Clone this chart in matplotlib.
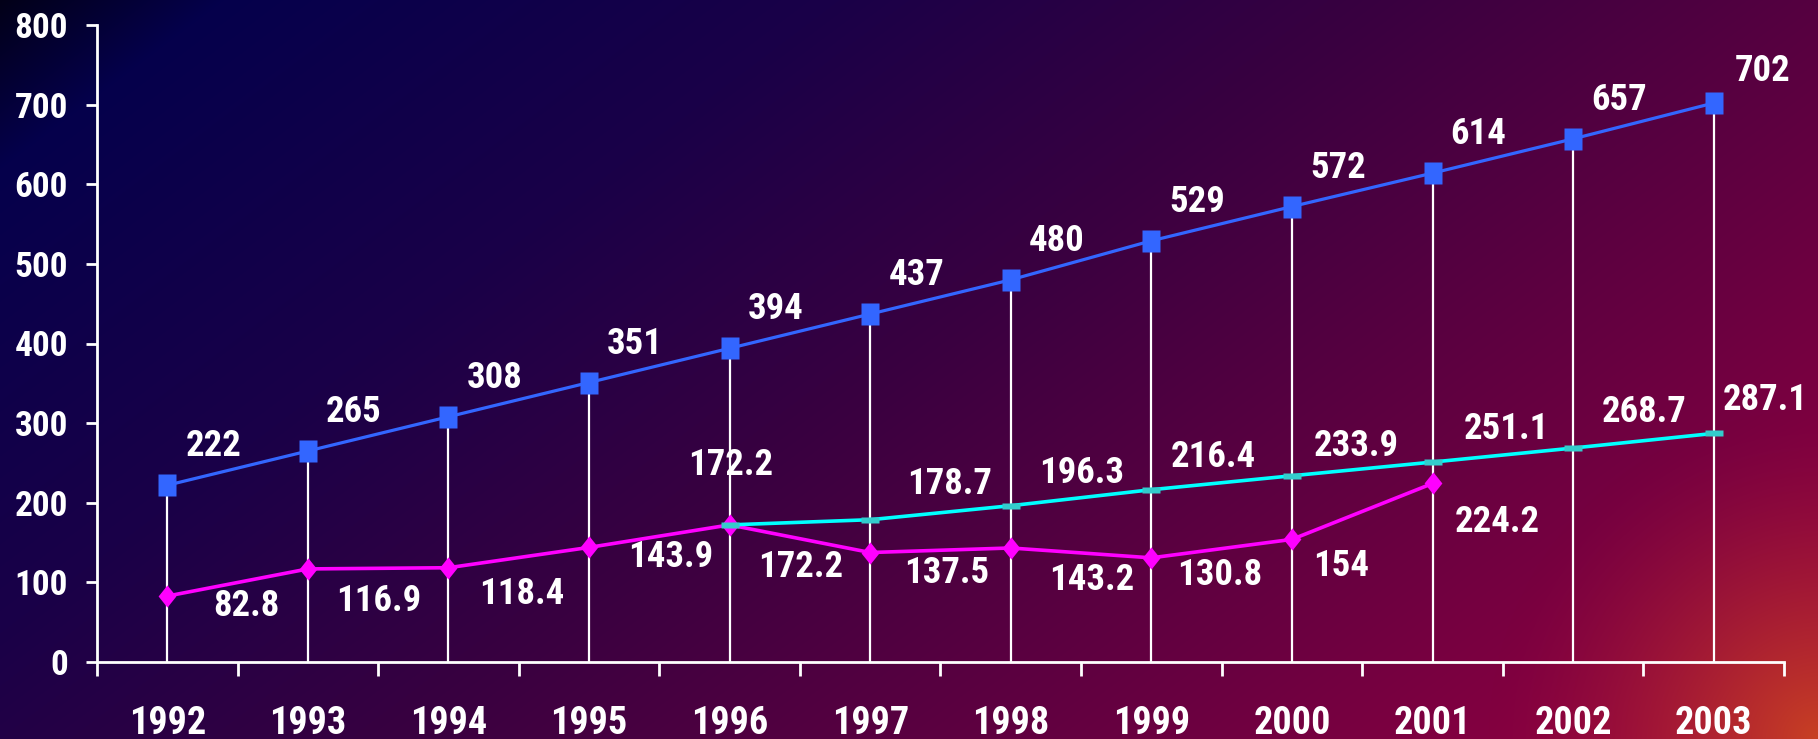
import numpy as np
import matplotlib
matplotlib.use("Agg")
import matplotlib.pyplot as plt
from matplotlib.path import Path

# ---------------- data ----------------
years = ["1992", "1993", "1994", "1995", "1996", "1997", "1998", "1999", "2000", "2001", "2002", "2003"]
blue_values = [222, 265, 308, 351, 394, 437, 480, 529, 572, 614, 657, 702]
magenta_years = ["1992", "1993", "1994", "1995", "1996", "1997", "1998", "1999", "2000", "2001"]
magenta_values = [82.8, 116.9, 118.4, 143.9, 172.2, 137.5, 143.2, 130.8, 154, 224.2]
magenta_labels = ["82.8", "116.9", "118.4", "143.9", "172.2", "137.5", "143.2", "130.8", "154", "224.2"]
cyan_years = ["1996", "1997", "1998", "1999", "2000", "2001", "2002", "2003"]
cyan_values = [172.2, 178.7, 196.3, 216.4, 233.9, 251.1, 268.7, 287.1]
cyan_labels = ["172.2", "178.7", "196.3", "216.4", "233.9", "251.1", "268.7", "287.1"]
y_ticks = [0, 100, 200, 300, 400, 500, 600, 700, 800]

# label offsets in pixels (dx right, dy down)
blue_offsets = [(46, -39)] * 11 + [(49, -32)]
magenta_offsets = [(79, 10), (71, 32), (73, 26), (82, 10), (71, 42), (76, 20), (81, 32), (68, 17), (49, 27), (65, 39)]
cyan_offsets = [(1, -60), (79, -36), (71, -33), (62, -33), (64, -30), (74, -33), (71, -36), (52, -33)]

plt.rcParams['font.family'] = ['Roboto Condensed', 'Liberation Sans', 'DejaVu Sans']
plt.rcParams['font.weight'] = 'bold'

W, H = 1818, 739
fig = plt.figure(figsize=(W / 100, H / 100), dpi=100)

# ---------------- background gradient ----------------
bg = fig.add_axes([0, 0, 1, 1], zorder=-10)
xn = np.linspace(0, 1, W)[None, :]
yn = np.linspace(0, 1, H)[:, None]
d = 0.65 * xn + 0.35 * yn
stops = [0.0, 0.08, 0.3, 0.5, 0.75, 1.0]
cols = np.array([[0x02, 0x00, 0x18], [0x05, 0x00, 0x4c], [0x1a, 0x00, 0x48],
                 [0x3a, 0x00, 0x40], [0x68, 0x00, 0x40], [0x9c, 0x00, 0x40]]) / 255.0
img = np.zeros((H, W, 3))
for c in range(3):
    img[:, :, c] = np.interp(d, stops, cols[:, c])
px = np.arange(W)[None, :]
py = np.arange(H)[:, None]
dist = np.sqrt((px - W) ** 2 + (py - H) ** 2)
w = np.clip(1 - dist / 330, 0, 1) ** 1.6 * 0.85
orange = np.array([0xd0, 0x4c, 0x1e]) / 255.0
img = img * (1 - w[:, :, None]) + orange[None, None, :] * w[:, :, None]
bg.imshow(img, aspect='auto', extent=[0, 1, 0, 1], origin='upper')
bg.set_axis_off()

# ---------------- main axes ----------------
ax = fig.add_axes([97 / W, 1 - 662 / H, (1784 - 97) / W, (662 - 25) / H])
ax.patch.set_alpha(0)

x = np.arange(len(years))
xm = [years.index(y) for y in magenta_years]
xc = [years.index(y) for y in cyan_years]

ax.vlines(x, 0, blue_values, color='white', lw=1.6, zorder=2)

tall_square = Path([(-0.82, -1), (0.82, -1), (0.82, 1), (-0.82, 1), (-0.82, -1)],
                   [Path.MOVETO, Path.LINETO, Path.LINETO, Path.LINETO, Path.CLOSEPOLY])
ax.plot(x, blue_values, color='#3366ff', lw=2.3, marker=tall_square, ms=16.5,
        mfc='#3366ff', mec='none', zorder=4)

diamond = Path([(0, 1), (0.8, 0), (0, -1), (-0.8, 0), (0, 1)],
               [Path.MOVETO, Path.LINETO, Path.LINETO, Path.LINETO, Path.CLOSEPOLY])
ax.plot(xm, magenta_values, color='#ff00ff', lw=2.6, marker=diamond, ms=16,
        mfc='#ff00ff', mec='none', zorder=5)

rect = Path([(-1, -0.33), (1, -0.33), (1, 0.33), (-1, 0.33), (-1, -0.33)],
            [Path.MOVETO, Path.LINETO, Path.LINETO, Path.LINETO, Path.CLOSEPOLY])
ax.plot(xc, cyan_values, color='#00ffff', lw=2.6, marker=rect, ms=13,
        mfc='#33cccc', mec='none', zorder=6)

lab_kw = dict(textcoords='offset pixels', ha='center', va='center',
              color='white', fontsize=26.5, fontweight='bold', zorder=7)
for xi, v, off in zip(x, blue_values, blue_offsets):
    ax.annotate(str(v), (xi, v), xytext=(off[0], -off[1]), **lab_kw)
for xi, v, t, off in zip(xm, magenta_values, magenta_labels, magenta_offsets):
    ax.annotate(t, (xi, v), xytext=(off[0], -off[1]), **lab_kw)
for xi, v, t, off in zip(xc, cyan_values, cyan_labels, cyan_offsets):
    ax.annotate(t, (xi, v), xytext=(off[0], -off[1]), **lab_kw)

ax.set_xlim(-0.5, len(years) - 0.5)
ax.set_ylim(0, 800)
for s in ['top', 'right']:
    ax.spines[s].set_visible(False)
for s in ['left', 'bottom']:
    ax.spines[s].set_color('white')
    ax.spines[s].set_linewidth(2)

ax.set_xticks(x)
ax.set_xticklabels(years)
ax.set_xticks(np.arange(-0.5, len(years), 1), minor=True)
ax.tick_params(axis='x', which='major', length=0, pad=31, labelsize=27.5, labelcolor='white')
ax.tick_params(axis='x', which='minor', length=10, width=2, color='white')
ax.set_yticks(y_ticks)
ax.tick_params(axis='y', which='major', length=8, width=2, color='white', pad=13,
               labelsize=25.5, labelcolor='white')
for lab in ax.get_xticklabels() + ax.get_yticklabels():
    lab.set_fontweight('bold')

fig.savefig('out.png', dpi=100)
